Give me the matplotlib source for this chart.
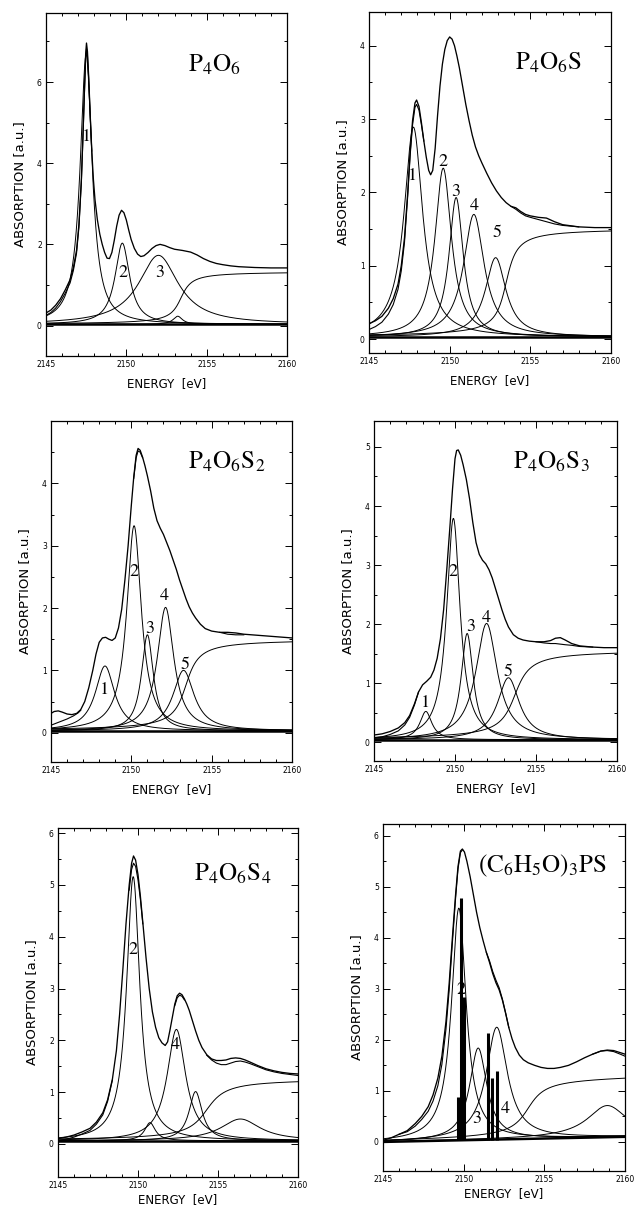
import numpy as np
import matplotlib.pyplot as plt

plt.rcParams['mathtext.fontset'] = 'stix'
plt.rcParams['font.family'] = 'DejaVu Sans'

# fitted components: centre [eV], height, FWHM [eV]; edge step: centre, height, width
# measured spectrum read from the picture as (energy, absorption);
# the fit curve is given only where it separates from the measured one

# ---- P4O6 ----
p4o6_pos = [2147.5, 2149.75, 2152.0, 2153.2]
p4o6_height = [6.65, 2.0, 1.7, 0.2]
p4o6_fwhm = [0.9, 1.1, 3.0, 0.7]
p4o6_step = [2153.4, 1.3, 0.5]
p4o6_base = [0.03, 0.03]
p4o6_e = [2145.0, 2145.3, 2145.6, 2145.9, 2146.2, 2146.5, 2146.7, 2146.9, 2147.05, 2147.2,
          2147.3, 2147.4, 2147.47, 2147.52, 2147.58, 2147.66, 2147.75, 2147.85, 2147.95, 2148.05,
          2148.2, 2148.35, 2148.5, 2148.65, 2148.8, 2148.95, 2149.1, 2149.25, 2149.4, 2149.55,
          2149.7, 2149.85, 2150.0, 2150.15, 2150.3, 2150.5, 2150.7, 2150.9, 2151.1, 2151.35,
          2151.6, 2151.85, 2152.1, 2152.4, 2152.7, 2153.0, 2153.5, 2154.0, 2154.4, 2154.8,
          2155.2, 2155.6, 2156.0, 2156.5, 2157.0, 2158.0, 2159.0, 2160.0]
p4o6_meas = [0.31, 0.38, 0.50, 0.66, 0.88, 1.13, 1.42, 1.85, 2.5, 3.6,
             4.7, 5.9, 6.7, 6.96, 6.75, 6.1, 5.2, 4.3, 3.6, 3.1,
             2.6, 2.25, 2.0, 1.8, 1.66, 1.65, 1.8, 2.1, 2.45, 2.72,
             2.84, 2.78, 2.6, 2.35, 2.12, 1.9, 1.76, 1.7, 1.72, 1.8,
             1.9, 1.97, 2.0, 1.97, 1.92, 1.88, 1.85, 1.81, 1.74, 1.65,
             1.58, 1.53, 1.5, 1.47, 1.45, 1.43, 1.42, 1.42]
p4o6_fit_e = [[2145.0, 2145.3, 2145.6, 2145.9, 2146.2, 2146.5, 2146.7, 2146.9, 2147.05, 2147.2,
               2147.3, 2147.4, 2147.47, 2147.52, 2147.58, 2147.66, 2147.75, 2147.85]]
p4o6_fit = [[0.25, 0.32, 0.43, 0.59, 0.8, 1.05, 1.35, 1.78, 2.42, 3.5,
             4.6, 5.8, 6.55, 6.82, 6.65, 6.05, 5.2, 4.3]]
p4o6_labels = ['1', '2', '3']
p4o6_label_xy = [[2147.5, 4.64], [2149.8, 1.3], [2152.1, 1.3]]

# ---- P4O6S ----
p4o6s_pos = [2147.75, 2149.6, 2150.4, 2151.5, 2152.85]
p4o6s_height = [2.86, 2.3, 1.9, 1.67, 1.08]
p4o6s_fwhm = [1.4, 1.24, 1.07, 1.55, 1.55]
p4o6s_step = [2153.5, 1.48, 0.5]
p4o6s_base = [0.03, 0.03]
p4o6s_e = [2145.0, 2145.4, 2145.8, 2146.2, 2146.5, 2146.8, 2147.0, 2147.2, 2147.4, 2147.55,
           2147.7, 2147.85, 2147.95, 2148.1, 2148.25, 2148.4, 2148.55, 2148.7, 2148.82, 2148.95,
           2149.1, 2149.25, 2149.4, 2149.55, 2149.7, 2149.85, 2150.0, 2150.15, 2150.3, 2150.45,
           2150.6, 2150.8, 2151.0, 2151.2, 2151.4, 2151.6, 2151.8, 2152.0, 2152.3, 2152.6,
           2152.9, 2153.2, 2153.5, 2153.8, 2154.1, 2154.4, 2154.7, 2155.0, 2155.5, 2156.0,
           2156.5, 2157.0, 2158.0, 2159.0, 2160.0]
p4o6s_meas = [0.21, 0.25, 0.31, 0.42, 0.55, 0.75, 1.0, 1.38, 2.0, 2.55,
              2.98, 3.22, 3.26, 3.17, 2.95, 2.7, 2.48, 2.3, 2.24, 2.3,
              2.6, 3.05, 3.45, 3.75, 3.95, 4.07, 4.12, 4.09, 4.0, 3.86,
              3.7, 3.45, 3.2, 2.98, 2.78, 2.62, 2.5, 2.4, 2.26, 2.13,
              2.02, 1.93, 1.86, 1.81, 1.79, 1.74, 1.7, 1.68, 1.66, 1.65,
              1.6, 1.56, 1.53, 1.52, 1.52]
p4o6s_fit_e = [[2145.0, 2145.4, 2145.8, 2146.2, 2146.5, 2146.8, 2147.0, 2147.2, 2147.4, 2147.55,
                2147.7, 2147.85, 2147.95, 2148.1, 2148.25, 2148.4],
               [2153.8, 2154.1, 2154.4, 2154.7, 2155.0, 2155.5, 2156.0, 2156.5, 2157.0, 2158.0]]
p4o6s_fit = [[0.13, 0.17, 0.23, 0.34, 0.47, 0.68, 0.93, 1.32, 1.95, 2.5,
              2.92, 3.16, 3.2, 3.12, 2.92, 2.7],
             [1.81, 1.77, 1.72, 1.68, 1.66, 1.63, 1.6, 1.57, 1.55, 1.53]]
p4o6s_labels = ['1', '2', '3', '4', '5']
p4o6s_label_xy = [[2147.7, 2.23], [2149.6, 2.41], [2150.4, 2.0], [2151.5, 1.81], [2152.95, 1.45]]

# ---- P4O6S2 ----
p4o6s2_pos = [2148.36, 2150.17, 2151.0, 2152.13, 2153.25]
p4o6s2_height = [1.04, 3.29, 1.54, 1.98, 0.97]
p4o6s2_fwhm = [1.45, 1.1, 0.9, 1.25, 1.6]
p4o6s2_step = [2153.4, 1.47, 0.6]
p4o6s2_base = [0.03, 0.03]
p4o6s2_e = [2145.0, 2145.2, 2145.45, 2145.7, 2146.0, 2146.3, 2146.6, 2146.85, 2147.1, 2147.35,
            2147.6, 2147.8, 2148.0, 2148.2, 2148.4, 2148.6, 2148.8, 2149.0, 2149.2, 2149.4,
            2149.6, 2149.8, 2150.0, 2150.15, 2150.3, 2150.42, 2150.55, 2150.7, 2150.85, 2151.0,
            2151.2, 2151.4, 2151.6, 2151.8, 2152.0, 2152.2, 2152.4, 2152.6, 2152.8, 2153.0,
            2153.2, 2153.4, 2153.6, 2153.8, 2154.0, 2154.3, 2154.6, 2155.0, 2155.5, 2156.0,
            2156.5, 2157.0, 2158.0, 2159.0, 2160.0]
p4o6s2_meas = [0.31, 0.34, 0.35, 0.33, 0.3, 0.29, 0.31, 0.37, 0.5, 0.72,
               1.0, 1.26, 1.45, 1.52, 1.53, 1.5, 1.48, 1.52, 1.68, 1.98,
               2.45, 3.0, 3.65, 4.1, 4.45, 4.56, 4.53, 4.42, 4.28, 4.12,
               3.88, 3.6, 3.4, 3.28, 3.18, 3.05, 2.92, 2.77, 2.62, 2.45,
               2.3, 2.15, 2.02, 1.92, 1.84, 1.74, 1.67, 1.63, 1.61, 1.61,
               1.6, 1.58, 1.56, 1.54, 1.52]
p4o6s2_fit_e = [[2145.0, 2145.3, 2145.6, 2146.0, 2146.4, 2146.7, 2146.85],
                [2150.15, 2150.3, 2150.42, 2150.55, 2150.7],
                [2155.5, 2156.0, 2156.5, 2157.0]]
p4o6s2_fit = [[0.12, 0.15, 0.18, 0.22, 0.27, 0.32, 0.36],
              [4.08, 4.41, 4.52, 4.5, 4.41],
              [1.61, 1.58, 1.57, 1.57]]
p4o6s2_labels = ['1', '2', '3', '4', '5']
p4o6s2_label_xy = [[2148.36, 0.69], [2150.17, 2.57], [2151.16, 1.67], [2152.03, 2.2], [2153.34, 1.09]]

# ---- P4O6S3 ----
p4o6s3_pos = [2148.2, 2149.9, 2150.75, 2151.95, 2153.3]
p4o6s3_height = [0.48, 3.75, 1.8, 1.97, 1.05]
p4o6s3_fwhm = [0.9, 1.0, 0.9, 1.6, 1.65]
p4o6s3_step = [2153.7, 1.52, 0.7]
p4o6s3_base = [0.04, 0.04]
p4o6s3_e = [2145.0, 2145.5, 2146.0, 2146.5, 2146.9, 2147.2, 2147.5, 2147.75, 2148.0, 2148.25,
            2148.5, 2148.7, 2148.9, 2149.1, 2149.3, 2149.5, 2149.7, 2149.85, 2150.0, 2150.1,
            2150.2, 2150.35, 2150.5, 2150.7, 2150.9, 2151.1, 2151.3, 2151.5, 2151.7, 2151.9,
            2152.1, 2152.3, 2152.5, 2152.7, 2152.9, 2153.1, 2153.3, 2153.6, 2153.9, 2154.2,
            2154.6, 2155.0, 2155.5, 2155.9, 2156.2, 2156.5, 2156.8, 2157.2, 2157.7, 2158.5,
            2159.2, 2160.0]
p4o6s3_meas = [0.12, 0.14, 0.18, 0.24, 0.33, 0.45, 0.65, 0.85, 0.97, 1.03,
               1.1, 1.22, 1.42, 1.75, 2.25, 2.95, 3.7, 4.3, 4.8, 4.94,
               4.95, 4.86, 4.7, 4.45, 4.12, 3.72, 3.38, 3.18, 3.08, 3.02,
               2.92, 2.78, 2.6, 2.42, 2.24, 2.08, 1.95, 1.82, 1.76, 1.73,
               1.71, 1.7, 1.7, 1.72, 1.76, 1.77, 1.73, 1.67, 1.63, 1.61,
               1.6, 1.6]
p4o6s3_fit_e = [[2145.0, 2145.5, 2146.0, 2146.5, 2146.9, 2147.2, 2147.5, 2147.75],
                [2155.0, 2155.5, 2155.9, 2156.2, 2156.5, 2156.8, 2157.2, 2157.7, 2158.5]]
p4o6s3_fit = [[0.07, 0.09, 0.13, 0.19, 0.29, 0.42, 0.63, 0.85],
              [1.7, 1.68, 1.67, 1.67, 1.66, 1.65, 1.64, 1.62, 1.61]]
p4o6s3_labels = ['1', '2', '3', '4', '5']
p4o6s3_label_xy = [[2148.17, 0.66], [2149.88, 2.89], [2150.97, 1.95], [2151.93, 2.1], [2153.27, 1.19]]

# ---- P4O6S4 ----
p4o6s4_pos = [2149.7, 2150.75, 2152.4, 2153.6, 2156.4]
p4o6s4_height = [5.1, 0.35, 2.15, 0.95, 0.42]
p4o6s4_fwhm = [1.0, 0.8, 1.4, 1.0, 3.0]
p4o6s4_step = [2154.3, 1.2, 0.9]
p4o6s4_base = [0.06, 0.06]
p4o6s4_e = [2145.0, 2145.5, 2146.0, 2146.5, 2147.0, 2147.4, 2147.8, 2148.1, 2148.4, 2148.65,
            2148.85, 2149.05, 2149.25, 2149.45, 2149.6, 2149.72, 2149.85, 2150.0, 2150.15, 2150.3,
            2150.5, 2150.7, 2150.9, 2151.1, 2151.3, 2151.5, 2151.7, 2151.85, 2152.0, 2152.15,
            2152.3, 2152.45, 2152.6, 2152.75, 2152.9, 2153.05, 2153.2, 2153.4, 2153.6, 2153.8,
            2154.0, 2154.3, 2154.6, 2154.9, 2155.2, 2155.5, 2155.8, 2156.1, 2156.4, 2156.7,
            2157.0, 2157.5, 2158.0, 2158.5, 2159.0, 2159.5, 2160.0]
p4o6s4_meas = [0.1, 0.13, 0.17, 0.23, 0.3, 0.42, 0.6, 0.85, 1.25, 1.8,
               2.5, 3.35, 4.25, 5.0, 5.42, 5.56, 5.48, 5.2, 4.78, 4.28,
               3.6, 3.0, 2.55, 2.25, 2.05, 1.95, 1.9, 1.97, 2.2, 2.45,
               2.7, 2.86, 2.91, 2.88, 2.8, 2.7, 2.58, 2.38, 2.18, 2.0,
               1.86, 1.72, 1.64, 1.61, 1.61, 1.62, 1.65, 1.66, 1.65, 1.62,
               1.58, 1.51, 1.45, 1.41, 1.38, 1.36, 1.35]
p4o6s4_fit_e = [[2145.0, 2145.5, 2146.0, 2146.5, 2147.0, 2147.4, 2147.8, 2148.1, 2148.4],
                [2149.45, 2149.6, 2149.72, 2149.85, 2150.0, 2150.15, 2150.3],
                [2152.3, 2152.45, 2152.6, 2152.75, 2152.9],
                [2154.3, 2154.6, 2154.9, 2155.2, 2155.5, 2155.8, 2156.1, 2156.4, 2156.7, 2157.0,
                 2157.5, 2158.0, 2158.5, 2159.0, 2159.5, 2160.0]]
p4o6s4_fit = [[0.06, 0.09, 0.13, 0.19, 0.26, 0.38, 0.56, 0.82, 1.23],
              [4.9, 5.3, 5.42, 5.36, 5.1, 4.72, 4.25],
              [2.67, 2.82, 2.87, 2.85, 2.78],
              [1.71, 1.62, 1.56, 1.53, 1.53, 1.56, 1.59, 1.6, 1.58, 1.55,
               1.49, 1.43, 1.39, 1.36, 1.34, 1.32]]
p4o6s4_labels = ['2', '4']
p4o6s4_label_xy = [[2149.71, 3.75], [2152.31, 1.91]]

# ---- (C6H5O)3PS ----
tpps_pos = [2149.7, 2150.9, 2152.05, 2158.9]
tpps_height = [4.55, 1.8, 2.2, 0.62]
tpps_fwhm = [1.1, 1.3, 1.6, 3.0]
tpps_step = [2154.0, 1.2, 0.8]
tpps_base = [0.0, 0.1]
tpps_e = [2145.0, 2145.5, 2146.0, 2146.5, 2147.0, 2147.4, 2147.8, 2148.1, 2148.4, 2148.65,
          2148.9, 2149.1, 2149.3, 2149.5, 2149.65, 2149.8, 2149.92, 2150.05, 2150.2, 2150.4,
          2150.6, 2150.8, 2151.0, 2151.2, 2151.4, 2151.6, 2151.8, 2152.0, 2152.2, 2152.4,
          2152.6, 2152.8, 2153.0, 2153.2, 2153.45, 2153.7, 2154.0, 2154.4, 2154.8, 2155.2,
          2155.6, 2156.0, 2156.5, 2157.0, 2157.5, 2158.0, 2158.5, 2158.9, 2159.3, 2159.7,
          2160.0]
tpps_meas = [0.03, 0.08, 0.15, 0.22, 0.36, 0.5, 0.69, 0.92, 1.25, 1.68,
             2.35, 3.1, 4.0, 4.85, 5.4, 5.7, 5.74, 5.68, 5.5, 5.2,
             4.85, 4.5, 4.2, 3.95, 3.72, 3.52, 3.3, 3.12, 2.98, 2.78,
             2.52, 2.24, 2.02, 1.85, 1.7, 1.61, 1.55, 1.5, 1.46, 1.44,
             1.44, 1.46, 1.5, 1.57, 1.65, 1.72, 1.78, 1.8, 1.79, 1.75,
             1.72]
tpps_fit_e = [[2146.0, 2146.5, 2147.0, 2147.4, 2147.8, 2148.1, 2148.4, 2148.65, 2148.9, 2149.1,
               2149.3, 2149.5, 2149.65, 2149.8, 2149.92],
              [2151.4, 2151.6, 2151.8, 2152.0, 2152.2, 2152.4, 2152.6, 2152.8],
              [2158.0, 2158.5, 2158.9, 2159.3, 2159.7, 2160.0]]
tpps_fit = [[0.15, 0.2, 0.31, 0.44, 0.6, 0.8, 1.1, 1.52, 2.2, 2.97,
             3.9, 4.78, 5.35, 5.67, 5.72],
            [3.72, 3.55, 3.34, 3.17, 3.02, 2.8, 2.53, 2.24],
            [1.72, 1.78, 1.79, 1.77, 1.72, 1.68]]
tpps_labels = ['2', '3', '4']
tpps_label_xy = [[2149.85, 2.98], [2150.8, 0.45], [2152.56, 0.64]]
# calculated transitions (sticks)
tpps_bar_pos = [2149.65, 2149.82, 2150.0, 2151.5, 2151.78, 2152.05]
tpps_bar_height = [0.85, 4.75, 2.8, 2.1, 1.2, 1.35]

titles = [r'$\mathrm{P_4O_6}$', r'$\mathrm{P_4O_6S}$', r'$\mathrm{P_4O_6S_2}$',
          r'$\mathrm{P_4O_6S_3}$', r'$\mathrm{P_4O_6S_4}$', r'$\mathrm{(C_6H_5O)_3PS}$']

panels = [
    (p4o6_pos, p4o6_height, p4o6_fwhm, p4o6_step, p4o6_base, p4o6_e, p4o6_meas, p4o6_fit_e, p4o6_fit, p4o6_labels, p4o6_label_xy),
    (p4o6s_pos, p4o6s_height, p4o6s_fwhm, p4o6s_step, p4o6s_base, p4o6s_e, p4o6s_meas, p4o6s_fit_e, p4o6s_fit, p4o6s_labels, p4o6s_label_xy),
    (p4o6s2_pos, p4o6s2_height, p4o6s2_fwhm, p4o6s2_step, p4o6s2_base, p4o6s2_e, p4o6s2_meas, p4o6s2_fit_e, p4o6s2_fit, p4o6s2_labels, p4o6s2_label_xy),
    (p4o6s3_pos, p4o6s3_height, p4o6s3_fwhm, p4o6s3_step, p4o6s3_base, p4o6s3_e, p4o6s3_meas, p4o6s3_fit_e, p4o6s3_fit, p4o6s3_labels, p4o6s3_label_xy),
    (p4o6s4_pos, p4o6s4_height, p4o6s4_fwhm, p4o6s4_step, p4o6s4_base, p4o6s4_e, p4o6s4_meas, p4o6s4_fit_e, p4o6s4_fit, p4o6s4_labels, p4o6s4_label_xy),
    (tpps_pos, tpps_height, tpps_fwhm, tpps_step, tpps_base, tpps_e, tpps_meas, tpps_fit_e, tpps_fit, tpps_labels, tpps_label_xy),
]

# layout in pixels: left, right, top, bottom of each axes
W, H = 637, 1205
boxes = [(46, 287, 13, 356), (369, 611, 12, 353), (51, 292, 421, 762),
         (374, 617, 421, 761), (58, 298, 828, 1177), (383, 625, 824, 1171)]
ylims = [(-0.75, 7.7), (-0.19, 4.46), (-0.47, 5.0), (-0.32, 5.44), (-0.64, 6.1), (-0.57, 6.23)]
ysteps = [2, 1, 1, 1, 1, 1]
title_xy = [(0.70, 0.85), (0.74, 0.85), (0.73, 0.88), (0.73, 0.88), (0.73, 0.87), (0.66, 0.88)]
xlabel_pad = [6, 6, 6, 6, 2, 2]


def lorentz(x, c, h, fwhm):
    hw = fwhm / 2
    return h * hw ** 2 / ((x - c) ** 2 + hw ** 2)


def edge(x, c, h, w):
    return h * (0.5 + np.arctan((x - c) / w) / np.pi)


fig = plt.figure(figsize=(W / 100, H / 100), dpi=100)
x = np.linspace(2145, 2160, 800)

for i, (pos, hgt, fw, stp, base, e, meas, fit_e, fit, labs, lab_xy) in enumerate(panels):
    l, r, t, b = boxes[i]
    ax = fig.add_axes([l / W, (H - b) / H, (r - l) / W, (b - t) / H])
    bl = base[0] + (base[1] - base[0]) * (x - 2145) / 15

    ax.plot(x, bl, color='black', lw=1.8)
    for c, h, f in zip(pos, hgt, fw):
        ax.plot(x, bl + lorentz(x, c, h, f), color='black', lw=0.7)
    ax.plot(x, bl + edge(x, *stp), color='black', lw=0.7)
    for fe, fy in zip(fit_e, fit):
        ax.plot(fe, fy, color='black', lw=0.8, solid_joinstyle='round')
    ax.plot(e, meas, color='black', lw=0.95, solid_joinstyle='round')

    if i == 5:
        bb = tpps_base[0] + (tpps_base[1] - tpps_base[0]) * (np.array(tpps_bar_pos) - 2145) / 15
        ax.vlines(tpps_bar_pos, bb, bb + np.array(tpps_bar_height), color='black', lw=2.2)

    for s, (lx, ly) in zip(labs, lab_xy):
        ax.text(lx, ly, s, ha='center', va='center', fontsize=13, family='STIXGeneral')

    ax.text(title_xy[i][0], title_xy[i][1], titles[i], transform=ax.transAxes,
            ha='center', va='center', fontsize=18)

    ax.set_xlim(2145, 2160)
    ax.set_ylim(*ylims[i])
    ax.set_xticks([2145, 2150, 2155, 2160])
    ax.set_xticks(np.arange(2145, 2161, 1), minor=True)
    ys = ysteps[i]
    ax.set_yticks(np.arange(0, ylims[i][1], ys))
    ax.set_yticks(np.arange(0, ylims[i][1], ys / 2), minor=True)
    ax.tick_params(which='both', direction='in', top=True, right=True, labelsize=5.5, width=0.7)
    ax.tick_params(which='major', length=5, pad=3)
    ax.tick_params(which='minor', length=2.5)
    for sp in ax.spines.values():
        sp.set_linewidth(0.9)
    ax.set_xlabel('ENERGY  [eV]', fontsize=8.5, labelpad=xlabel_pad[i])
    ax.set_ylabel('ABSORPTION [a.u.]', fontsize=9.5, labelpad=8)

fig.savefig('out.png', dpi=100, facecolor='white')
